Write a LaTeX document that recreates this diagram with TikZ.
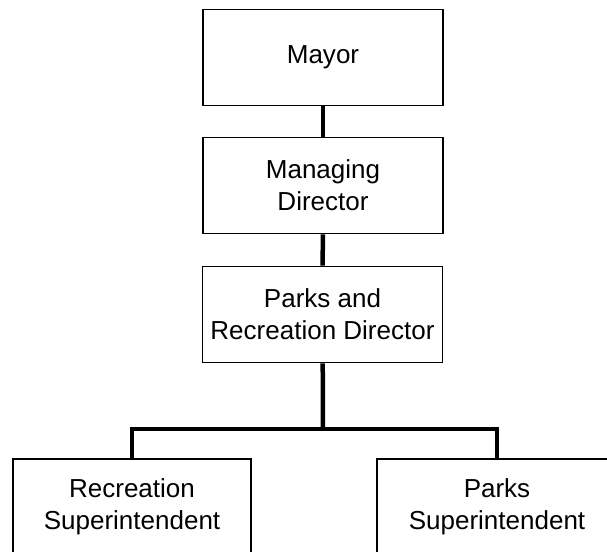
\documentclass[tikz,border=0pt]{standalone}
\usepackage{fontspec}
\setmainfont{Liberation Sans}
\usetikzlibrary{positioning}

\begin{document}
\begin{tikzpicture}[x=0.025cm, y=-0.025cm,
	post/.style={draw=black, line width=1.3pt, minimum width=6cm, minimum height=2.4cm, align=center, inner sep=0pt, font=\fontsize{18.5}{22.8}\selectfont},
	link/.style={black, line width=3.2pt}]
	
	\clip (0,0) rectangle (607,552);
	
	\node[post] (mayor) at (323,57.5) {Mayor};
	\node[post] (md) at (323,185.5) {Managing\\Director};
	\node[post] (prd) at (322.5,314.5) {Parks and\\Recreation Director};
	\node[post, minimum width=5.95cm] (rec) at (132,507) {Recreation\\Superintendent};
	\node[post] (parks) at (497,507) {Parks\\Superintendent};
	
	\coordinate (bar) at (323,429);
	
	\draw[link] (mayor) -- (md);
	\draw[link] (md) -- (prd);
	\draw[link] (prd) -- (bar);
	\draw[link] (rec.north) |- (bar) -| (parks.north);
	
\end{tikzpicture}
\end{document}
